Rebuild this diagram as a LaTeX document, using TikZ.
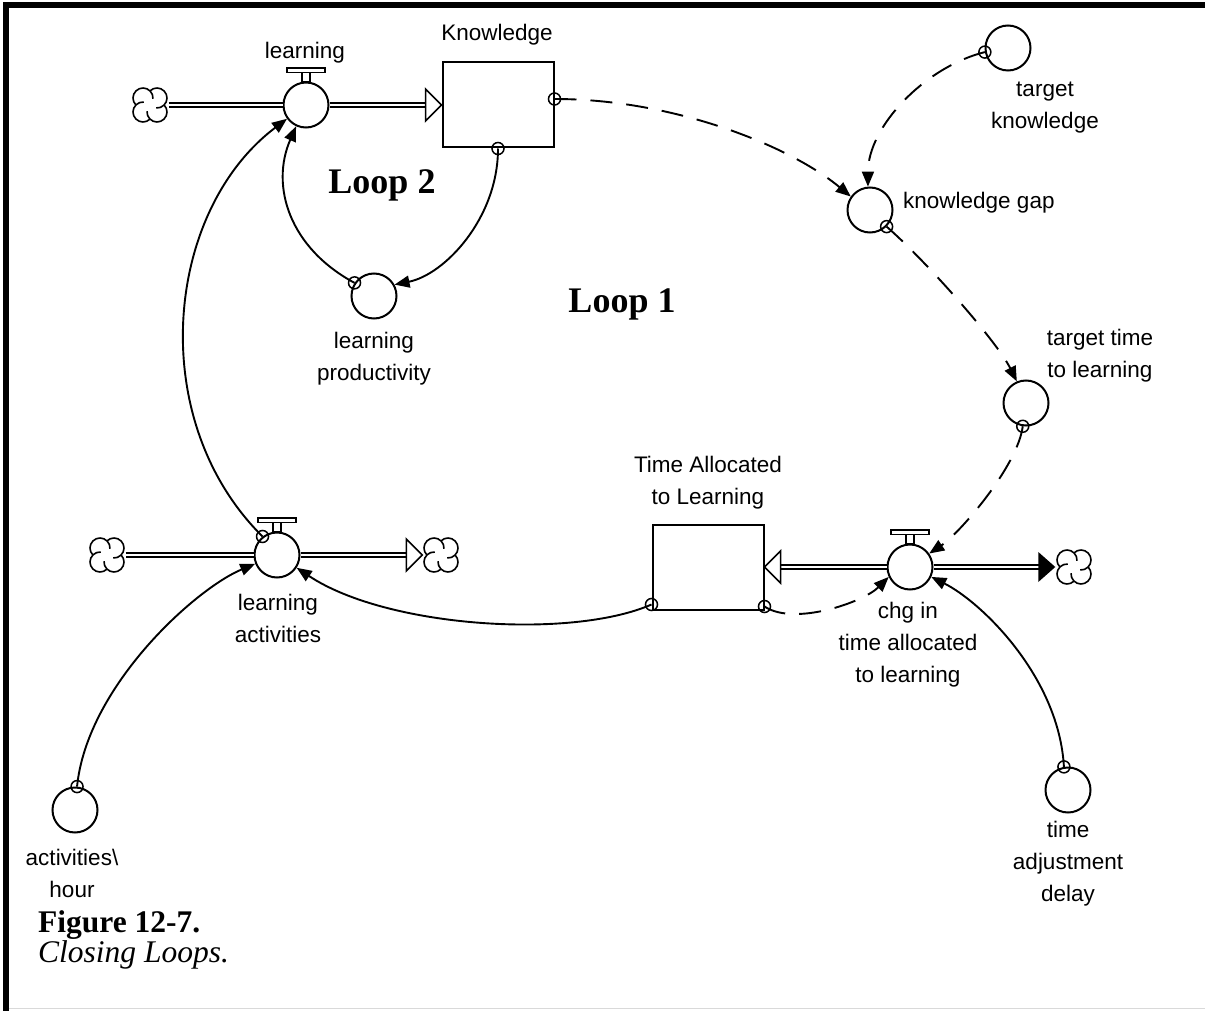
\documentclass[tikz,border=0pt]{standalone}
\usepackage{fontspec}
\setmainfont{Liberation Sans}
\newfontfamily\capfont{Liberation Serif}
\usetikzlibrary{arrows.meta}
\newcommand\valvetop[1]{%
\draw[line width=1.5pt,fill=white] ([xshift=-4pt]#1.north) rectangle ([xshift=4pt,yshift=9pt]#1.north);
\draw[line width=1.5pt,fill=white] ([xshift=-19pt,yshift=9pt]#1.north) rectangle ([xshift=19pt,yshift=13.5pt]#1.north);}
\newcommand\openhead[2]{\draw[line width=1.5pt,fill=white] (#1) -- ++(#2*-16,-16) -- ++(0,32) -- cycle;}
\begin{document}
\begin{tikzpicture}[x=1pt,y=-1pt,
sourcecloud/.style={fill=white,minimum width=37pt,minimum height=37pt,inner sep=0pt,path picture={
\draw[line width=1.6pt,shift={(path picture bounding box.center)}]
(14.14,0) arc[start angle=-44.4,end angle=184.4,radius=10]
(0,14.14) arc[start angle=45.6,end angle=274.4,radius=10]
(-14.14,0) arc[start angle=135.6,end angle=364.4,radius=10]
(0,-14.14) arc[start angle=225.6,end angle=454.4,radius=10];
}},
pipe/.style={double,double distance=2.6pt,line width=1.4pt},
valve/.style={circle,draw,fill=white,line width=2pt,minimum size=45pt,inner sep=0pt},
aux/.style={circle,draw,line width=2pt,minimum size=45pt,inner sep=0pt},
stock/.style={rectangle,draw,line width=2pt,minimum width=111pt,minimum height=85pt},
tap/.style={circle,draw,line width=1.5pt,minimum size=12pt,inner sep=0pt},
link/.style={line width=1.9pt,-{Triangle[length=15pt,width=12pt]}},
dlink/.style={link,dash pattern=on 22pt off 14pt},
lbl/.style={font=\fontsize{22.5}{32}\selectfont,align=center,inner sep=0pt},
looplbl/.style={font=\capfont\bfseries\fontsize{36}{40}\selectfont,inner sep=0pt,anchor=base}]
\useasboundingbox (0,0) rectangle (1205,1011);
\fill (3,2.5) rectangle (1205,8.5);
\fill (3,2.5) rectangle (9,1011);
\draw[black!15,line width=1pt] (9,1008.5) -- (1205,1008.5);

% flows
\node[sourcecloud] (cA) at (150,105) {};
\node[valve] (lrn) at (306,105) {};
\node[stock] (know) at (498,105) {};
\node[sourcecloud] (cB1) at (107,555) {};
\node[valve] (act) at (277,555) {};
\node[sourcecloud] (cB2) at (441,555) {};
\node[stock] (tal) at (708,567) {};
\node[valve] (chg) at (910,567) {};
\node[sourcecloud] (cC) at (1074,567) {};

\draw[pipe] (cA.east) -- (lrn.west);
\draw[pipe] (lrn.east) -- ([xshift=-15pt]know.west);
\openhead{know.west}{1}
\draw[pipe] (cB1.east) -- (act.west);
\draw[pipe] (act.east) -- ([xshift=-15pt]cB2.west);
\openhead{cB2.west}{1}
\draw[pipe] (chg.west) -- ([xshift=15pt]tal.east);
\openhead{tal.east}{-1}
\draw[pipe] (chg.east) -- ([xshift=-16pt]cC.west);
\fill (cC.west) -- ++(-17,-15) -- ++(0,30) -- cycle;
\valvetop{lrn}
\valvetop{act}
\valvetop{chg}

% converters
\node[aux] (lp) at (374,296) {};
\node[aux] (gap) at (870,210) {};
\node[aux] (tk) at (1008,48) {};
\node[aux] (ttl) at (1026,403) {};
\node[aux] (ah) at (75,810) {};
\node[aux] (tad) at (1068,790) {};

% labels
\node[lbl] (lrnL) at (305,53) {learning};
\node[lbl] (knowL) at (497,35) {Knowledge};
\node[lbl,anchor=west] (gapL) at (903,203) {knowledge gap};
\node[lbl] (tkL) at (1045,108) {target\\knowledge};
\node[lbl] (ttlL) at (1100,356) {target time\\to learning};
\node[lbl] (talL) at (708,483) {Time Allocated\\to Learning};
\node[lbl] (actL) at (278,618) {learning\\activities};
\node[lbl] (chgL) at (908,645) {chg in\\time allocated\\to learning};
\node[lbl] (ahL) at (72,873) {activities\textbackslash\\hour};
\node[lbl] (tadL) at (1068,864) {time\\adjustment\\delay};
\node[lbl] (lpL) at (374,359) {learning\\productivity};
\node[looplbl] (loop2) at (382,194) {Loop 2};
\node[looplbl] (loop1) at (622,312) {Loop 1};
\node[anchor=base west,inner sep=0pt,font=\capfont\bfseries\fontsize{31.5}{34}\selectfont] (fig) at (38,932) {Figure 12-7.};
\node[anchor=base west,inner sep=0pt,font=\capfont\itshape\fontsize{31.5}{34}\selectfont] (figT) at (38,962) {Closing Loops.};

% connectors
\draw[dlink] ([yshift=6pt]know.east) .. controls +(120,0) and +(-60,-50) .. (gap.145);
\draw[dlink] (tk.190) .. controls +(-60,15) and +(0,-60) .. (gap.95);
\draw[dlink] (gap.-45) .. controls +(40,35) and +(-20,-40) .. (ttl.113);
\draw[dlink] (ttl.262) .. controls +(-5,40) and +(30,-20) .. (chg.35);
\draw[dlink] ([yshift=4pt]tal.south east) .. controls +(30,20) and +(-25,25) .. (chg.205);
\draw[link] ([yshift=6pt]tal.south west) .. controls +(-80,35) and +(90,60) .. (act.-33);
\draw[link] (ah.85) .. controls +(10,-100) and +(-60,25) .. (act.202);
\draw[link] (act.128) .. controls +(-118,-117) and +(-122,92) .. (lrn.216);
\draw[link] (lp.146) .. controls +(-65,-35) and +(-26,60) .. (lrn.245);
\draw[link] (know.south) .. controls +(0,70) and +(50,-10) .. (lp.29);
\draw[link] (tad.100) .. controls +(-5,-90) and +(50,25) .. (chg.-25);

\node[tap] (t1) at ([yshift=6pt]know.east) {};
\node[tap] (t2) at (tk.190) {};
\node[tap] (t3) at (gap.-45) {};
\node[tap] (t4) at (ttl.262) {};
\node[tap] (t5) at ([yshift=4pt]tal.south east) {};
\node[tap] (t6) at ([yshift=6pt]tal.south west) {};
\node[tap] (t7) at (ah.85) {};
\node[tap] (t8) at (act.128) {};
\node[tap] (t9) at (lp.146) {};
\node[tap] (t10) at (know.south) {};
\node[tap] (t11) at (tad.100) {};
\end{tikzpicture}
\end{document}
